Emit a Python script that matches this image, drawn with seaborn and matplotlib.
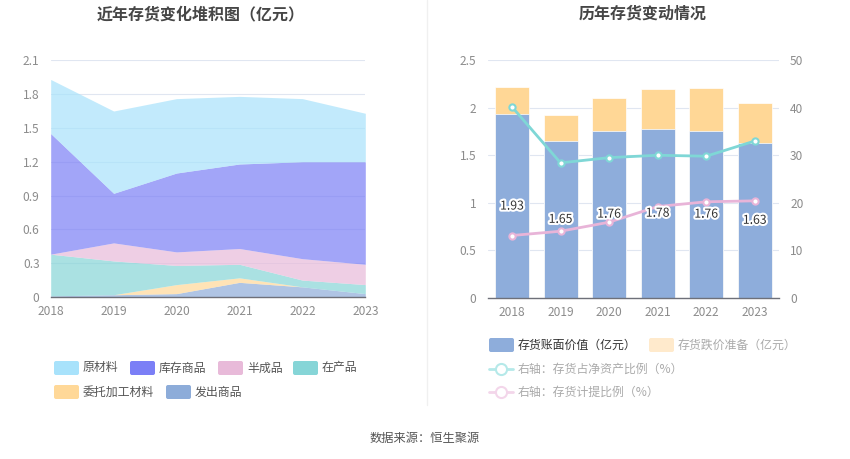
import numpy as np
import seaborn as sns
import matplotlib.pyplot as plt
import matplotlib.patheffects as pe
from matplotlib.patches import FancyBboxPatch
from matplotlib.lines import Line2D

years = ['2018', '2019', '2020', '2021', '2022', '2023']

# left chart: stacked inventory composition (亿元), bottom to top
fachu = [0.01, 0.02, 0.03, 0.13, 0.09, 0.03]
weituo = [0.0, 0.0, 0.08, 0.04, 0.0, 0.0]
zaichan = [0.37, 0.30, 0.17, 0.12, 0.06, 0.08]
banchengpin = [0.0, 0.16, 0.12, 0.14, 0.19, 0.18]
kucun = [1.07, 0.44, 0.70, 0.75, 0.86, 0.91]
yuancailiao = [0.48, 0.73, 0.66, 0.60, 0.56, 0.43]

# right chart
book_value = [1.93, 1.65, 1.76, 1.78, 1.76, 1.63]
impairment = [0.29, 0.27, 0.34, 0.42, 0.45, 0.42]
ratio_net_assets = [40.2, 28.4, 29.5, 30.0, 29.8, 33.0]
ratio_provision = [13.1, 14.0, 15.9, 19.2, 20.2, 20.4]

left_names = ['原材料', '库存商品', '半成品', '在产品', '委托加工材料', '发出商品']
left_colors = ['#a8e2fb', '#7b7ff6', '#e8bad9', '#86d5d7', '#ffd898', '#8dacd9']

sns.set_theme(style='white')
plt.rcParams['font.family'] = ['Noto Sans CJK SC', 'DejaVu Sans']

W, H = 850, 459
fig = plt.figure(figsize=(W / 100, H / 100), dpi=100)

grid_c = '#e0e6f1'
tick_c = '#8c8c8c'
axis_c = '#6e7079'


def px_axes(x0, y0, x1, y1):
    return fig.add_axes([x0 / W, 1 - y1 / H, (x1 - x0) / W, (y1 - y0) / H])


def style_axes(ax):
    for s in ax.spines.values():
        s.set_visible(False)
    ax.spines['bottom'].set_visible(True)
    ax.spines['bottom'].set_color(axis_c)
    ax.spines['bottom'].set_linewidth(1)
    ax.tick_params(axis='x', colors=axis_c, length=4, width=1, labelcolor=tick_c,
                   labelsize=8.6, pad=2)
    ax.tick_params(axis='y', length=0, labelcolor=tick_c, labelsize=8.6, pad=8)
    ax.grid(axis='y', color=grid_c, linewidth=0.8)
    ax.set_axisbelow(True)


# ---- left: stacked area
ax1 = px_axes(50.7, 60.3, 365.3, 297)
xs = np.arange(len(years))
stack = [fachu, weituo, zaichan, banchengpin, kucun, yuancailiao]
ax1.stackplot(xs, *stack, colors=left_colors[::-1], alpha=0.7, linewidth=0)
ax1.set_xlim(0, len(years) - 1)
ax1.set_ylim(0, 2.1)
yt = np.arange(0, 2.11, 0.3)
ax1.set_yticks(yt)
ax1.set_yticklabels(['0' if v == 0 else f'{v:.1f}' for v in yt])
ax1.set_xticks(xs)
ax1.set_xticklabels(years)
style_axes(ax1)

# ---- right: bars + lines
ax2 = px_axes(487.7, 60.3, 779, 297.7)
totals = [b + i for b, i in zip(book_value, impairment)]
sns.barplot(x=years, y=totals, color='#ffd796', saturation=1, width=0.7, ax=ax2,
            edgecolor='white', linewidth=0.5)
sns.barplot(x=years, y=book_value, color='#8eaddb', saturation=1, width=0.7, ax=ax2,
            edgecolor='white', linewidth=0.5)
ax2.set_xlim(-0.5, len(years) - 0.5)
ax2.set_ylim(0, 2.5)
ax2.set_yticks([0, 0.5, 1, 1.5, 2, 2.5])
ax2.set_yticklabels(['0', '0.5', '1', '1.5', '2', '2.5'])
style_axes(ax2)

ax3 = ax2.twinx()
for vals, c in [(ratio_net_assets, '#7fd7d6'), (ratio_provision, '#e8b4d8')]:
    sns.lineplot(x=xs, y=vals, ax=ax3, color=c, linewidth=2, marker='o', markersize=4.5,
                 markerfacecolor='white', markeredgecolor=c, markeredgewidth=1.5)
ax3.set_ylim(0, 50)
ax3.set_yticks([0, 10, 20, 30, 40, 50])
for s in ax3.spines.values():
    s.set_visible(False)
ax3.tick_params(axis='y', length=0, labelcolor=tick_c, labelsize=8.6, pad=8)
ax3.grid(False)

# value labels in the middle of the blue bars, drawn above the lines
for i, v in enumerate(book_value):
    ax3.text(i, v / 2, f'{v:.2f}', ha='center', va='center', fontsize=8.8, color='#333333',
             transform=ax2.transData, zorder=6,
             path_effects=[pe.withStroke(linewidth=3, foreground='white')])

# ---- overlay for titles, legends, divider
ov = fig.add_axes([0, 0, 1, 1])
ov.set_xlim(0, W)
ov.set_ylim(H, 0)
ov.axis('off')
ov.patch.set_visible(False)

ov.text(201, 14, '近年存货变化堆积图（亿元）', ha='center', va='center', fontsize=11.5,
        fontweight='bold', color='#464646')
ov.text(643, 14, '历年存货变动情况', ha='center', va='center', fontsize=11.5,
        fontweight='bold', color='#464646')
ov.plot([427, 427], [0, 405], color='#f0f0f0', linewidth=1)
ov.text(425, 438, '数据来源：恒生聚源', ha='center', va='center', fontsize=8.8, color='#555555')


def legend_box(x, y, color, label, tc='#555555'):
    ov.add_patch(FancyBboxPatch((x + 2, y - 5), 21, 10, boxstyle='round,pad=2',
                                facecolor=color, edgecolor='none'))
    ov.text(x + 29, y, label, ha='left', va='center', fontsize=8.6, color=tc)


def legend_line(x, y, color, label, tc='#aaaaaa'):
    ov.add_line(Line2D([x, x + 24], [y, y], color=color, linewidth=2))
    ov.plot([x + 12], [y], marker='o', markersize=8, markerfacecolor='white',
            markeredgecolor=color, markeredgewidth=1.5)
    ov.text(x + 29, y, label, ha='left', va='center', fontsize=8.6, color=tc)


left_pos = [(54, 368), (130, 368), (218, 368), (293, 368), (54, 392), (166, 392)]
for (x, y), c, n in zip(left_pos, left_colors, left_names):
    legend_box(x, y, c, n)

legend_box(489, 345, '#8eaddb', '存货账面价值（亿元）', tc='#333333')
legend_box(649, 345, '#ffeacc', '存货跌价准备（亿元）', tc='#aaaaaa')
legend_line(489, 369, '#b5e9e9', '右轴：存货占净资产比例（%）')
legend_line(489, 392, '#f3d6ea', '右轴：存货计提比例（%）')

fig.savefig('out.png', dpi=100)
